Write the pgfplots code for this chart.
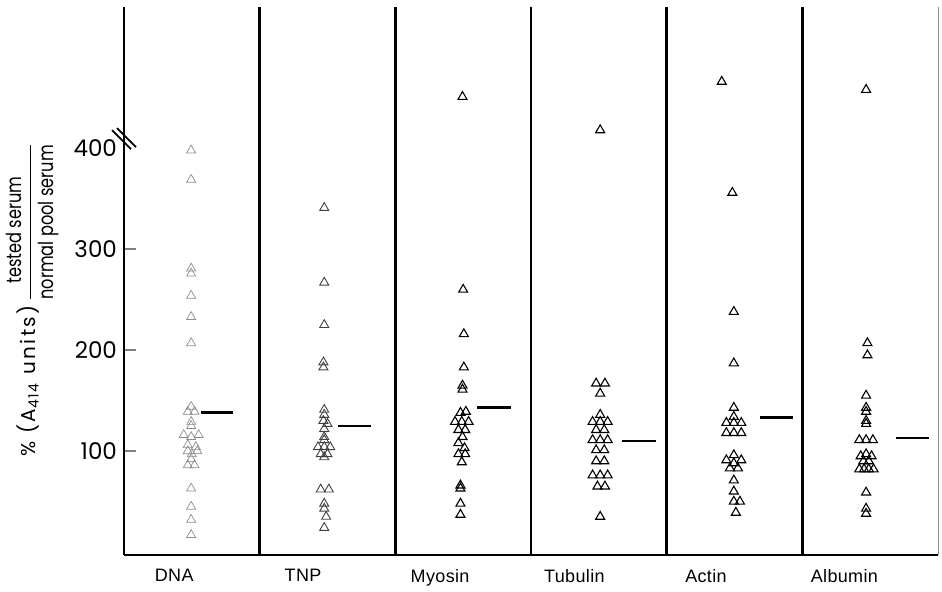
\documentclass[border=0pt]{standalone}
\usepackage{pgfplots}
\pgfplotsset{compat=1.18}
\usepackage{fontspec}
\setmainfont{Poppins}
\newfontfamily\catfont{Liberation Sans}[LetterSpace=2.0]
\newfontfamily\spacedfont{Poppins}[LetterSpace=12.0]
\begin{document}
\begin{tikzpicture}
\begin{axis}[
 name=ax,
 width=407pt, height=274pt, scale only axis,
 xmin=0, xmax=6, ymin=-3, ymax=540,
 axis x line=bottom, axis y line=left,
 axis line style={-, line width=1pt},
 xtick={0.37,1.32,2.33,3.32,4.29,5.31},
 xticklabels={DNA,TNP,Myosin,Tubulin,Actin,Albumin},
 x tick style={draw=none},
 xticklabel style={font=\catfont\fontsize{9}{10}\selectfont, yshift=-3.5pt},
 ytick={100,200,300},
 extra y ticks={400},
 extra y tick style={tick style={draw=none}},
 y tick style={line width=1pt},
 major tick length=6pt,
 tick align=inside,
 yticklabel style={font=\fontsize{11.5}{12}\selectfont},
 /pgf/number format/assume math mode=true,
 clip=false,
]
% dividers
\addplot[line width=1.2pt, no marks] coordinates {(1,-3)(1,540)};
\addplot[line width=1.2pt, no marks] coordinates {(2,-3)(2,540)};
\addplot[line width=1.2pt, no marks] coordinates {(3,-3)(3,540)};
\addplot[line width=1.2pt, no marks] coordinates {(4,-3)(4,540)};
\addplot[line width=1.2pt, no marks] coordinates {(5,-3)(5,540)};
\addplot[line width=0.5pt, black!45, no marks] coordinates {(6,-3)(6,540)};
% DNA
\addplot[only marks, mark=triangle, mark size=2.6pt, mark options={line width=0.35pt, black!45}] coordinates {
(0.495,398)(0.495,369)(0.495,281)(0.495,276)(0.495,254)(0.495,233)(0.495,207)
(0.495,144)(0.47,139)(0.52,139)(0.495,129)(0.495,125)
(0.44,116)(0.495,114)(0.55,116)(0.47,106)(0.53,104)
(0.47,100)(0.50,97)(0.54,100)(0.495,92)(0.47,86)(0.52,86)
(0.495,63)(0.495,45)(0.495,32)(0.495,17)
};
% TNP
\addplot[only marks, mark=triangle, mark size=2.6pt, mark options={line width=0.45pt, black!75}] coordinates {
(1.476,341)(1.476,267)(1.476,225)(1.47,188)(1.47,183)
(1.476,141)(1.476,136)(1.47,130)(1.50,127)(1.476,122)(1.476,114)(1.476,111)
(1.43,104)(1.476,104)(1.52,104)(1.45,97)(1.50,97)(1.476,94)
(1.45,62)(1.51,62)(1.476,48)(1.476,43)(1.49,35)(1.476,24)
};
% Myosin
\addplot[only marks, mark=triangle, mark size=2.6pt, mark options={line width=0.55pt, black}] coordinates {
(2.495,451)(2.50,260)(2.505,216)(2.505,183)(2.495,165)(2.495,161)
(2.48,138)(2.52,139)(2.44,129)(2.49,129)(2.54,129)
(2.465,121)(2.515,121)(2.495,114)(2.465,108)(2.51,103)
(2.465,97)(2.515,97)(2.49,89)
(2.48,66)(2.48,63)(2.48,48)(2.48,37)
};
% Tubulin
\addplot[only marks, mark=triangle, mark size=2.6pt, mark options={line width=0.55pt, black}] coordinates {
(3.51,418)(3.48,167)(3.545,167)(3.51,157)(3.51,136)
(3.454,129)(3.51,129)(3.565,129)(3.48,121)(3.54,121)
(3.454,111)(3.51,111)(3.565,111)(3.48,101)(3.54,101)
(3.48,90)(3.54,90)(3.454,76)(3.51,76)(3.565,76)
(3.49,65)(3.545,65)(3.51,35)
};
% Actin
\addplot[only marks, mark=triangle, mark size=2.6pt, mark options={line width=0.55pt, black}] coordinates {
(4.406,466)(4.484,356)(4.495,238)(4.495,187)(4.495,143)(4.495,134)
(4.44,128)(4.495,128)(4.55,128)(4.44,118)(4.495,118)(4.55,118)
(4.495,96)(4.44,91)(4.55,91)(4.495,88)(4.466,83)(4.525,83)
(4.495,71)(4.495,60)(4.495,50)(4.54,50)(4.51,39)
};
% Albumin
\addplot[only marks, mark=triangle, mark size=2.6pt, mark options={line width=0.55pt, black}] coordinates {
(5.47,458)(5.48,207)(5.48,195)(5.47,155)(5.47,143)(5.47,139)(5.47,130)(5.47,127)
(5.42,111)(5.47,111)(5.52,111)
(5.43,95)(5.47,97)(5.51,95)(5.45,90)(5.49,90)
(5.42,82)(5.455,82)(5.49,82)(5.525,82)
(5.47,59)(5.47,43)(5.47,38)
};
% means
\addplot[line width=1.3pt, no marks] coordinates {(0.568,138)(0.804,138)};
\addplot[line width=1.3pt, no marks] coordinates {(1.58,125)(1.82,125)};
\addplot[line width=1.3pt, no marks] coordinates {(2.605,143)(2.856,143)};
\addplot[line width=1.3pt, no marks] coordinates {(3.668,110)(3.92,110)};
\addplot[line width=1.3pt, no marks] coordinates {(4.69,133)(4.93,133)};
\addplot[line width=1.3pt, no marks] coordinates {(5.69,113)(5.93,113)};
% axis break
\draw[line width=0.9pt] ([shift={(-6pt,5pt)}]axis cs:0,408) -- ([shift={(3.5pt,-4.5pt)}]axis cs:0,408);
\draw[line width=0.9pt] ([shift={(-3.5pt,6pt)}]axis cs:0,408) -- ([shift={(6pt,-3.5pt)}]axis cs:0,408);
% y label
\node[rotate=90, inner sep=0pt] at ([xshift=-45.5pt]axis cs:0,250) {{\spacedfont\fontsize{10}{12}\selectfont \% (A\textsubscript{414} units)}\,$\displaystyle\frac{\scalebox{0.9}[1.15]{\fontsize{9}{10}\selectfont tested serum\rule[-2pt]{0pt}{1pt}}}{\scalebox{0.9}[1.15]{\fontsize{9}{10}\selectfont\rule{0pt}{9pt}normal pool serum}}$};
\end{axis}
\pgfresetboundingbox
\path[use as bounding box] ([shift={(-62pt,-18pt)}]ax.south west) rectangle ([shift={(2pt,3.5pt)}]ax.north east);
\end{tikzpicture}
\end{document}
